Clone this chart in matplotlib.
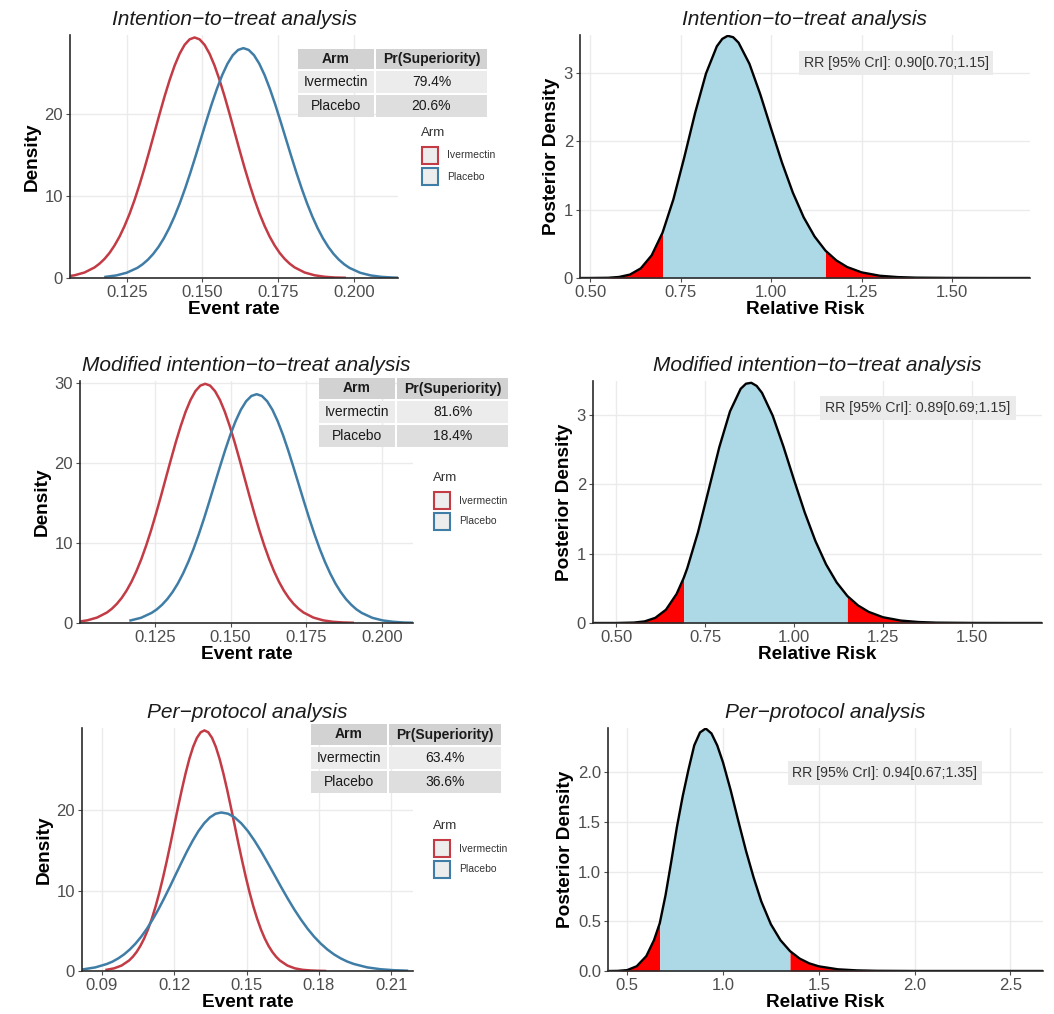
import numpy as np
import matplotlib
matplotlib.use("Agg")
import matplotlib.pyplot as plt
from matplotlib.patches import Rectangle

plt.rcParams['font.family'] = ['Liberation Sans', 'DejaVu Sans']

W, H = 1054, 1014

arms = ["Ivermectin", "Placebo"]
arm_colors = ["#C23B45", "#3F7DA6"]
titles = ["Intention\u2212to\u2212treat analysis",
          "Modified intention\u2212to\u2212treat analysis",
          "Per\u2212protocol analysis"]
superiority = [["79.4%", "20.6%"], ["81.6%", "18.4%"], ["63.4%", "36.6%"]]
# RR median, lower and upper 95% CrI
rr_summary = [[0.90, 0.70, 1.15], [0.89, 0.69, 1.15], [0.94, 0.67, 1.35]]

# posterior densities of the event rate
itt_ivm_x = [0.1045, 0.1078, 0.1111,
             0.1144, 0.11605, 0.1177, 0.11935, 0.1210, 0.12265, 0.1243, 0.12595, 0.1276, 0.12925,
             0.1309, 0.13255, 0.1342, 0.13585, 0.1375, 0.13915, 0.1408, 0.14245, 0.1441, 0.14575,
             0.1474,
             0.14905, 0.1507, 0.15235, 0.1540, 0.15565, 0.1573, 0.15895, 0.1606, 0.16225, 0.1639,
             0.16555, 0.1672, 0.16885, 0.1705, 0.17215, 0.1738, 0.17545, 0.1771, 0.17875, 0.1804,
             0.1837, 0.1870, 0.1903, 0.1936, 0.1969]
itt_ivm_y = [0.15, 0.33, 0.67,
             1.29, 1.75, 2.33, 3.06, 3.97, 5.05, 6.34, 7.82, 9.51, 11.39,
             13.41, 15.56, 17.77, 19.98, 22.12, 24.10, 25.86, 27.31, 28.40, 29.07,
             29.30,
             29.07, 28.40, 27.31, 25.86, 24.10, 22.12, 19.98, 17.77, 15.56, 13.41,
             11.39, 9.51, 7.82, 6.34, 5.05, 3.97, 3.06, 2.33, 1.75, 1.29,
             0.67, 0.33, 0.15, 0.06, 0.03]
itt_pbo_x = [0.1180, 0.1215, 0.1250,
             0.1285, 0.13025, 0.1320, 0.13375, 0.1355, 0.13725, 0.1390, 0.14075, 0.1425, 0.14425,
             0.1460, 0.14775, 0.1495, 0.15125, 0.1530, 0.15475, 0.1565, 0.15825, 0.1600, 0.16175,
             0.1635,
             0.16525, 0.1670, 0.16875, 0.1705, 0.17225, 0.1740, 0.17575, 0.1775, 0.17925, 0.1810,
             0.18275, 0.1845, 0.18625, 0.1880, 0.18975, 0.1915, 0.19325, 0.1950, 0.19675, 0.1985,
             0.2020, 0.2055, 0.2090, 0.2125, 0.2160]
itt_pbo_y = [0.14, 0.31, 0.64,
             1.23, 1.67, 2.23, 2.93, 3.79, 4.83, 6.06, 7.48, 9.09, 10.88,
             12.82, 14.87, 16.98, 19.09, 21.14, 23.03, 24.71, 26.10, 27.14, 27.78,
             28.00,
             27.78, 27.14, 26.10, 24.71, 23.03, 21.14, 19.09, 16.98, 14.87, 12.82,
             10.88, 9.09, 7.48, 6.06, 4.83, 3.79, 2.93, 2.23, 1.67, 1.23,
             0.64, 0.31, 0.14, 0.06, 0.02]

mitt_ivm_x = [0.09935, 0.1026, 0.10585,
              0.1091, 0.11073, 0.11235, 0.11398, 0.1156, 0.11723, 0.11885, 0.12048, 0.1221, 0.12373,
              0.12535, 0.12698, 0.1286, 0.13023, 0.13185, 0.13348, 0.1351, 0.13673, 0.13835, 0.13998,
              0.1416,
              0.14323, 0.14485, 0.14648, 0.1481, 0.14973, 0.15135, 0.15298, 0.1546, 0.15623, 0.15785,
              0.15948, 0.1611, 0.16273, 0.16435, 0.16598, 0.1676, 0.16923, 0.17085, 0.17248, 0.1741,
              0.17735, 0.1806, 0.18385, 0.1871, 0.19035]
mitt_ivm_y = [0.15, 0.33, 0.68,
              1.31, 1.78, 2.38, 3.13, 4.05, 5.16, 6.47, 7.99, 9.71, 11.62,
              13.69, 15.88, 18.14, 20.39, 22.57, 24.59, 26.39, 27.87, 28.98, 29.67,
              29.90,
              29.67, 28.98, 27.87, 26.39, 24.59, 22.57, 20.39, 18.14, 15.88, 13.69,
              11.62, 9.71, 7.99, 6.47, 5.16, 4.05, 3.13, 2.38, 1.78, 1.31,
              0.68, 0.33, 0.15, 0.07, 0.03]
mitt_pbo_x = [0.1169, 0.12038,
              0.12385, 0.12559, 0.12733, 0.12906, 0.1308, 0.13254, 0.13428, 0.13601, 0.13775, 0.13949,
              0.14123, 0.14296, 0.1447, 0.14644, 0.14818, 0.14991, 0.15165, 0.15339, 0.15513, 0.15686,
              0.1586,
              0.16034, 0.16208, 0.16381, 0.16555, 0.16729, 0.16903, 0.17076, 0.1725, 0.17424, 0.17598,
              0.17771, 0.17945, 0.18119, 0.18293, 0.18466, 0.1864, 0.18814, 0.18988, 0.19161, 0.19335,
              0.19683, 0.2003, 0.20378, 0.20725, 0.21073]
mitt_pbo_y = [0.32, 0.65,
              1.26, 1.70, 2.28, 2.99, 3.87, 4.93, 6.19, 7.64, 9.28, 11.11,
              13.09, 15.19, 17.35, 19.50, 21.59, 23.53, 25.24, 26.66, 27.72, 28.38,
              28.60,
              28.38, 27.72, 26.66, 25.24, 23.53, 21.59, 19.50, 17.35, 15.19, 13.09,
              11.11, 9.28, 7.64, 6.19, 4.93, 3.87, 2.99, 2.28, 1.70, 1.26,
              0.65, 0.32, 0.15, 0.06, 0.03]

pp_ivm_x = [0.09188, 0.0950, 0.09813,
            0.10125, 0.10281, 0.10438, 0.10594, 0.1075, 0.10906, 0.11063, 0.11219, 0.11375, 0.11531,
            0.11688, 0.11844, 0.1200, 0.12156, 0.12313, 0.12469, 0.12625, 0.12781, 0.12938, 0.13094,
            0.1325,
            0.13406, 0.13563, 0.13719, 0.13875, 0.14031, 0.14188, 0.14344, 0.1450, 0.14656, 0.14813,
            0.14969, 0.15125, 0.15281, 0.15438, 0.15594, 0.1575, 0.15906, 0.16063, 0.16219, 0.16375,
            0.16688, 0.1700, 0.17313, 0.17625, 0.17938, 0.1825]
pp_ivm_y = [0.15, 0.33, 0.68,
            1.31, 1.78, 2.38, 3.13, 4.05, 5.16, 6.47, 7.99, 9.71, 11.62,
            13.69, 15.88, 18.14, 20.39, 22.57, 24.59, 26.39, 27.87, 28.98, 29.67,
            29.90,
            29.67, 28.98, 27.87, 26.39, 24.59, 22.57, 20.39, 18.14, 15.88, 13.69,
            11.62, 9.71, 7.99, 6.47, 5.16, 4.05, 3.13, 2.38, 1.78, 1.31,
            0.68, 0.33, 0.15, 0.07, 0.03, 0.01]
pp_pbo_x = [0.07775, 0.0825, 0.08725,
            0.0920, 0.09438, 0.09675, 0.09913, 0.1015, 0.10388, 0.10625, 0.10863, 0.1110, 0.11338,
            0.11575, 0.11813, 0.1205, 0.12288, 0.12525, 0.12763, 0.1300, 0.13238, 0.13475, 0.13713,
            0.1395,
            0.14225, 0.1450, 0.14775, 0.1505, 0.15325, 0.1560, 0.15875, 0.1615, 0.16425, 0.1670,
            0.16975, 0.1725, 0.17525, 0.1780, 0.18075, 0.1835, 0.18625, 0.1890, 0.19175, 0.1945,
            0.2000, 0.2055, 0.2110, 0.2165]
pp_pbo_y = [0.10, 0.22, 0.45,
            0.87, 1.17, 1.57, 2.06, 2.67, 3.40, 4.26, 5.26, 6.40, 7.65,
            9.02, 10.46, 11.95, 13.43, 14.87, 16.20, 17.39, 18.36, 19.09, 19.55,
            19.70,
            19.55, 19.09, 18.36, 17.39, 16.20, 14.87, 13.43, 11.95, 10.46, 9.02,
            7.65, 6.40, 5.26, 4.26, 3.40, 2.67, 2.06, 1.57, 1.17, 0.87,
            0.45, 0.22, 0.10, 0.04]

# posterior densities of the relative risk
itt_rr_x = [0.47, 0.50, 0.55, 0.58, 0.61, 0.64, 0.67, 0.70, 0.73, 0.76, 0.79, 0.82, 0.85, 0.865,
            0.88, 0.895, 0.91, 0.94, 0.97, 1.00, 1.03, 1.06, 1.09, 1.12, 1.15, 1.18, 1.21, 1.25,
            1.30, 1.35, 1.40, 1.50, 1.60, 1.72]
itt_rr_y = [0.000, 0.000, 0.003, 0.015, 0.050, 0.141, 0.331, 0.662, 1.150, 1.762, 2.412, 2.987,
            3.385, 3.493, 3.538, 3.518, 3.438, 3.129, 2.683, 2.179, 1.685, 1.246, 0.885, 0.606,
            0.400, 0.257, 0.160, 0.082, 0.033, 0.013, 0.005, 0.001, 0.000, 0.000]
mitt_rr_x = [0.44, 0.50, 0.55, 0.58, 0.61, 0.64, 0.67, 0.69, 0.70, 0.73, 0.76, 0.79, 0.82, 0.85,
             0.865, 0.88, 0.895, 0.91, 0.94, 0.97, 1.00, 1.03, 1.06, 1.09, 1.12, 1.15, 1.18, 1.21,
             1.25, 1.30, 1.35, 1.40, 1.50, 1.60, 1.70]
mitt_rr_y = [0.000, 0.000, 0.006, 0.023, 0.074, 0.191, 0.419, 0.650, 0.791, 1.307, 1.919, 2.536,
             3.051, 3.377, 3.451, 3.464, 3.419, 3.319, 2.991, 2.549, 2.064, 1.596, 1.184, 0.846,
             0.584, 0.389, 0.253, 0.160, 0.083, 0.035, 0.014, 0.005, 0.001, 0.000, 0.000]
pp_rr_x = [0.41, 0.45, 0.50, 0.55, 0.60, 0.64, 0.67, 0.70, 0.73, 0.76, 0.79, 0.82, 0.85, 0.88,
           0.91, 0.94, 0.97, 1.00, 1.04, 1.08, 1.12, 1.16, 1.20, 1.25, 1.30, 1.35, 1.40, 1.45,
           1.50, 1.60, 1.70, 1.80, 2.00, 2.30, 2.67]
pp_rr_y = [0.000, 0.001, 0.009, 0.048, 0.150, 0.310, 0.480, 0.760, 1.100, 1.453, 1.760, 2.027,
           2.270, 2.400, 2.440, 2.390, 2.270, 2.100, 1.820, 1.510, 1.210, 0.940, 0.700, 0.470,
           0.310, 0.200, 0.125, 0.077, 0.047, 0.017, 0.006, 0.002, 0.000, 0.000, 0.000]

rate_curves = [[(itt_ivm_x, itt_ivm_y), (itt_pbo_x, itt_pbo_y)],
               [(mitt_ivm_x, mitt_ivm_y), (mitt_pbo_x, mitt_pbo_y)],
               [(pp_ivm_x, pp_ivm_y), (pp_pbo_x, pp_pbo_y)]]
rr_curves = [(itt_rr_x, itt_rr_y), (mitt_rr_x, mitt_rr_y), (pp_rr_x, pp_rr_y)]

# layout (pixel boxes: left, top, right, bottom)
left_boxes = [(70, 35, 398, 278), (80, 381, 413, 623), (82, 728, 413, 971)]
right_boxes = [(580, 35, 1030, 278), (593, 381, 1042, 623), (608, 728, 1043, 971)]
left_xlims = [(0.1063, 0.2145), (0.1002, 0.2103), (0.0817, 0.219)]
left_ylims = [(0, 29.6), (0, 30.25), (0, 30.2)]
left_xticks = [[0.125, 0.150, 0.175, 0.200], [0.125, 0.150, 0.175, 0.200],
               [0.09, 0.12, 0.15, 0.18, 0.21]]
left_xfmt = ["{:.3f}", "{:.3f}", "{:.2f}"]
left_yticks = [[0, 10, 20], [0, 10, 20, 30], [0, 10, 20]]
right_xlims = [(0.472, 1.715), (0.435, 1.697), (0.40, 2.67)]
right_ylims = [(0, 3.55), (0, 3.49), (0, 2.445)]
right_xticks = [[0.50, 0.75, 1.00, 1.25, 1.50], [0.50, 0.75, 1.00, 1.25, 1.50],
                [0.5, 1.0, 1.5, 2.0, 2.5]]
right_xfmt = ["{:.2f}", "{:.2f}", "{:.1f}"]
right_yticks = [[0, 1, 2, 3], [0, 1, 2, 3], [0.0, 0.5, 1.0, 1.5, 2.0]]
right_yfmt = ["{:.0f}", "{:.0f}", "{:.1f}"]

table_boxes = [(297, 48, 375, 488, 22, 24), (318, 377, 396, 509, 23, 24),
               (310, 723, 388, 502, 23, 24)]
legend_pos = [(421, 133), (433, 478), (433, 826)]
rr_box_centers = [(896, 63), (918, 408), (885, 773)]

fig = plt.figure(figsize=(W / 100, H / 100), dpi=100)


def fx(x):
    return x / W


def fy(y):
    return 1 - y / H


def make_axes(box):
    x0, y0, x1, y1 = box
    return fig.add_axes([fx(x0), fy(y1), (x1 - x0) / W, (y1 - y0) / H])


def style_axes(ax, xlim, ylim, xticks, xfmt, yticks, yfmt, xlabel, ylabel, title):
    ax.set_xlim(xlim)
    ax.set_ylim(ylim)
    ax.set_xticks(xticks)
    ax.set_xticklabels([xfmt.format(v) for v in xticks])
    ax.set_yticks(yticks)
    ax.set_yticklabels([yfmt.format(v) for v in yticks])
    for s in ["top", "right"]:
        ax.spines[s].set_visible(False)
    for s in ["left", "bottom"]:
        ax.spines[s].set_color("#2B2B2B")
        ax.spines[s].set_linewidth(1.2)
    ax.tick_params(colors="#4D4D4D", labelsize=12, length=3, width=0.8, pad=2)
    ax.grid(True, color="#EBEBEB", linewidth=1.0)
    ax.set_axisbelow(True)
    ax.set_xlabel(xlabel, fontsize=13.7, fontweight="bold", labelpad=1)
    ax.set_ylabel(ylabel, fontsize=13.7, fontweight="bold", labelpad=3)
    ax.set_title(title, fontsize=15, fontstyle="italic", color="#1A1A1A", pad=7)


for i in range(3):
    # event rate densities
    ax = make_axes(left_boxes[i])
    for (xs, ys), col in zip(rate_curves[i], arm_colors):
        ax.plot(xs, ys, color=col, lw=1.8, solid_joinstyle="round")
    style_axes(ax, left_xlims[i], left_ylims[i], left_xticks[i], left_xfmt[i],
               left_yticks[i], "{:.0f}", "Event rate", "Density", titles[i])

    # superiority table
    x0, y0, xs, x1, hh, rh = table_boxes[i]
    rows = [["Arm", "Pr(Superiority)"]] + [[a, p] for a, p in zip(arms, superiority[i])]
    fills = ["#D2D2D2", "#ECECEC", "#DEDEDE"]
    y = y0
    for r, row in enumerate(rows):
        h = hh if r == 0 else rh
        for c, (cx0, cx1) in enumerate([(x0, xs), (xs, x1)]):
            fig.add_artist(Rectangle((fx(cx0 + 1), fy(y + h - 1)), (cx1 - cx0 - 2) / W, (h - 2) / H,
                                     transform=fig.transFigure, facecolor=fills[r], edgecolor="none"))
            fig.text(fx((cx0 + cx1) / 2), fy(y + h / 2), row[c], ha="center", va="center",
                     fontsize=10, color="#1A1A1A", fontweight="bold" if r == 0 else "normal")
        y += h

    # legend
    lx, ly = legend_pos[i]
    fig.text(fx(lx), fy(ly), "Arm", ha="left", va="center", fontsize=9.5, color="#333333")
    for k, (name, col) in enumerate(zip(arms, arm_colors)):
        ky = ly + 14 + k * 21
        fig.add_artist(Rectangle((fx(lx + 1), fy(ky + 17)), 16 / W, 17 / H, transform=fig.transFigure,
                                 facecolor="#EDEDED", edgecolor=col, lw=1.5))
        fig.text(fx(lx + 26), fy(ky + 8.5), name, ha="left", va="center", fontsize=7.5,
                 color="#333333")

    # relative risk posterior
    ax = make_axes(right_boxes[i])
    x = np.array(rr_curves[i][0])
    yv = np.array(rr_curves[i][1])
    med, lo, hi = rr_summary[i]
    low = x <= lo
    mid = (x >= lo) & (x <= hi)
    upp = x >= hi
    ax.fill_between(x[low], 0, yv[low], color="red", lw=0)
    ax.fill_between(x[mid], 0, yv[mid], color="lightblue", lw=0)
    ax.fill_between(x[upp], 0, yv[upp], color="red", lw=0)
    ax.plot(x, yv, color="black", lw=1.7, solid_joinstyle="round")
    style_axes(ax, right_xlims[i], right_ylims[i], right_xticks[i], right_xfmt[i],
               right_yticks[i], right_yfmt[i], "Relative Risk", "Posterior Density", titles[i])
    cx, cy = rr_box_centers[i]
    fig.text(fx(cx), fy(cy), "RR [95% CrI]: {:.2f}[{:.2f};{:.2f}]".format(med, lo, hi),
             ha="center", va="center", fontsize=10.2, color="#333333",
             bbox=dict(boxstyle="square,pad=0.35", facecolor="#EBEBEB", edgecolor="none"))

fig.savefig("out.png", dpi=100, facecolor="white")
